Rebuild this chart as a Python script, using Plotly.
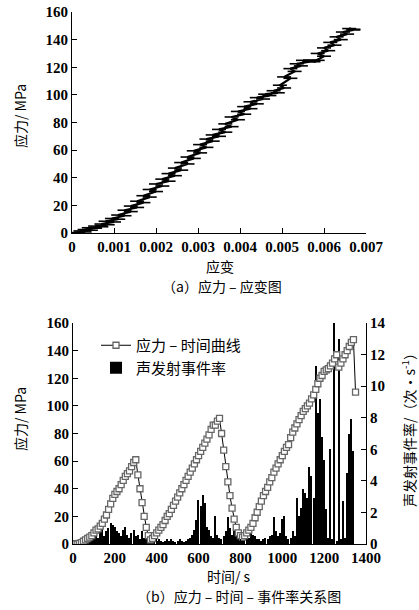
import plotly.graph_objects as go

# ---------------- data: (a) stress-strain ----------------
strain = [0.0, 0.00015, 0.00005, 0.0003, 0.0002, 0.00045, 0.0003, 0.00055, 0.0004, 0.0007,
          0.00055, 0.00085, 0.0007, 0.001, 0.0008, 0.0011, 0.00095, 0.00125, 0.0011, 0.0014,
          0.00125, 0.00155, 0.0014, 0.0017, 0.00155, 0.00185, 0.0017, 0.002, 0.00185, 0.00215,
          0.002, 0.0023, 0.00215, 0.00245, 0.0023, 0.0026, 0.00245, 0.00275, 0.0026, 0.0029,
          0.00275, 0.00305, 0.0029, 0.0032, 0.00305, 0.00335, 0.0032, 0.0035, 0.00335, 0.00365,
          0.0035, 0.0038, 0.00365, 0.00395, 0.0038, 0.0041, 0.00395, 0.00425, 0.0041, 0.0044,
          0.00425, 0.00455, 0.0044, 0.0047, 0.0046, 0.0049, 0.0048, 0.00505, 0.00495, 0.0052,
          0.00505, 0.0053, 0.0052, 0.00545, 0.00535, 0.00565, 0.0055, 0.00585, 0.00575, 0.006,
          0.00585, 0.0061, 0.006, 0.00625, 0.00615, 0.0064, 0.0063, 0.00655, 0.00645, 0.0067,
          0.0066, 0.0067]
stress_a = [0, 0, 0.3, 0.8, 1.5, 2, 2.5, 3.5, 3.8, 4.5,
            5, 6, 6.5, 8, 8.5, 10, 10.5, 12.5, 13, 15.5,
            16.5, 18.5, 19.5, 22, 23, 26, 27, 30, 31.5, 34,
            35.5, 37.5, 39, 41.5, 43, 45.5, 47, 50, 51, 54,
            55, 58, 59.5, 62, 64, 66.5, 68, 70, 71, 73,
            75, 77, 79, 82, 84, 86, 88, 90, 91.5, 93.5,
            95, 97, 98, 99.5, 100.5, 101.5, 103, 105, 107, 112,
            113, 117, 119, 121, 122.5, 124, 125, 125, 124, 128,
            130, 132, 134, 136, 138, 140, 142, 144, 145.5, 147,
            148, 147.5]

# ---------------- data: (b) stress-time & AE rate ----------------
time_s = [0, 10, 20, 30, 40, 50, 60, 70, 80, 90, 100, 110, 120, 130, 140, 150, 160, 170, 180, 190,
          200, 210, 220, 230, 240, 250, 260, 270, 280, 290, 300, 310, 320, 330, 340, 350, 360, 370, 380, 390,
          400, 410, 420, 430, 440, 450, 460, 470, 480, 490, 500, 510, 520, 530, 540, 550, 560, 570, 580, 590,
          600, 610, 620, 630, 640, 650, 660, 670, 680, 690, 700, 710, 720, 730, 740, 750, 760, 770, 780, 790,
          800, 810, 820, 830, 840, 850, 860, 870, 880, 890, 900, 910, 920, 930, 940, 950, 960, 970, 980, 990,
          1000, 1010, 1020, 1030, 1040, 1050, 1060, 1070, 1080, 1090, 1100, 1110, 1120, 1130, 1140, 1150,
          1160, 1170, 1180, 1190, 1200, 1210, 1220, 1230, 1240, 1250, 1260, 1270, 1280, 1290, 1300, 1310,
          1320, 1330, 1340, 1350]
stress_b = [0, 0, 0, 0.5, 1, 2, 3, 4, 5, 6, 8, 10, 11, 13, 15, 18, 21, 25, 29, 33,
            36, 38, 40, 43, 46, 49, 51, 53, 56, 59, 61, 50, 40, 30, 20, 12, 6, 3, 4, 6,
            8, 10, 12, 14, 17, 20, 22, 25, 28, 31, 34, 37, 40, 43, 46, 49, 52, 55, 58, 61,
            64, 67, 70, 73, 76, 79, 83, 86, 86, 89, 91, 80, 68, 56, 45, 35, 26, 18, 12, 8,
            6, 5, 6, 8, 10, 12, 15, 19, 23, 27, 31, 35, 38, 41, 45, 48, 52, 55, 58, 61,
            64, 67, 70, 72, 77, 81, 84, 87, 90, 93, 96, 98, 100, 102, 105, 108,
            112, 116, 120, 122, 125, 126, 127, 129, 131, 134, 137, 128, 131, 134, 137, 140,
            143, 146, 148, 110]
ae_rate = [0.1, 0.1, 0.1, 0.2, 0.1, 0.2, 0.2, 0.3, 0.2, 0.4, 0.3, 0.6, 0.4, 1.5, 1.2, 0.5, 0.8, 1.0, 1.3, 1.2,
           1.1, 0.8, 0.7, 0.5, 0.9, 1.1, 0.6, 0.4, 0.7, 0.9, 0.5, 0.6, 0.3, 0.8, 0.4, 0.3, 0.2, 0.3, 0.2, 0.4,
           0.2, 0.3, 0.2, 0.1, 0.2, 0.3, 0.2, 0.3, 0.2, 0.1, 0.2, 0.3, 0.2, 0.1, 0.2, 0.3, 0.4, 0.6, 0.9, 1.5,
           2.8, 2.4, 3.1, 2.6, 1.1, 0.9, 0.5, 0.4, 1.8, 0.6, 0.4, 0.3, 0.5, 0.8, 1.7, 1.0, 0.6, 1.0, 0.5, 0.6,
           0.4, 0.3, 0.5, 0.3, 0.4, 0.8, 0.6, 0.5, 0.3, 0.3, 0.2, 0.3, 0.4, 0.3, 0.5, 0.6, 1.7, 0.8, 0.5, 0.7,
           1.6, 1.8, 0.5, 0.3, 0.4, 0.8, 0.5, 2.9, 1.8, 2.3, 3.5, 3.2, 2.9, 4.9, 4.3, 2.9,
           11.3, 8.3, 9.2, 6.8, 5.3, 2.2, 0.4, 6.0, 0.3, 14.0, 0.2, 13.0, 0.3, 2.7, 0.4, 4.5,
           7.0, 7.9, 5.9, 0]

# tick labels
strain_ticks = [0, 0.001, 0.002, 0.003, 0.004, 0.005, 0.006, 0.007]
strain_ticktext = ["0", "0.001", "0.002", "0.003", "0.004", "0.005", "0.006", "0.007"]
stress_ticks = [0, 20, 40, 60, 80, 100, 120, 140, 160]
time_ticks = [0, 200, 400, 600, 800, 1000, 1200, 1400]
rate_ticks = [0, 2, 4, 6, 8, 10, 12, 14]

W, H = 419, 610
SERIF = "Liberation Serif"
CJK = "Noto Sans CJK SC"
tickfont = dict(family=SERIF, size=15, color="black", weight="bold")

fig = go.Figure()

# (a)
fig.add_trace(go.Scatter(
    x=strain, y=stress_a, mode="lines+markers", xaxis="x", yaxis="y",
    line=dict(color="black", width=2.2),
    marker=dict(symbol="line-ew-open", size=10, color="black", line=dict(width=1.6, color="black")),
    showlegend=False, hoverinfo="skip"))

# (b) bars on right axis (base), stress on overlaying left axis
fig.add_trace(go.Bar(
    x=time_s, y=ae_rate, xaxis="x2", yaxis="y2", width=6,
    marker=dict(color="black", line=dict(width=0)),
    name="声发射事件率", legendrank=2))
fig.add_trace(go.Scatter(
    x=time_s, y=stress_b, xaxis="x2", yaxis="y3", mode="lines+markers",
    line=dict(color="black", width=1),
    marker=dict(symbol="square", size=6, color="white", line=dict(color="#666666", width=1.3)),
    name="应力 – 时间曲线", legendrank=1))

def px_x(p):
    return p / W

def px_y(p):
    return (H - p) / H

axis_common = dict(showline=True, linecolor="black", linewidth=1.2, ticks="inside",
                   ticklen=5, tickwidth=1.2, tickcolor="black", showgrid=False,
                   zeroline=False, tickfont=tickfont, automargin=False)

fig.update_layout(
    width=W, height=H, margin=dict(l=0, r=0, t=0, b=0),
    paper_bgcolor="white", plot_bgcolor="white",
    bargap=0,
    xaxis=dict(domain=[px_x(72), px_x(366)], range=[0, 0.007], anchor="y",
               tickvals=strain_ticks, ticktext=strain_ticktext, **axis_common),
    yaxis=dict(domain=[px_y(233), px_y(12)], range=[0, 160], anchor="x",
               tickvals=stress_ticks, **axis_common),
    xaxis2=dict(domain=[px_x(73), px_x(366)], range=[0, 1400], anchor="y2",
                tickvals=time_ticks, **axis_common),
    yaxis2=dict(domain=[px_y(544), px_y(323)], range=[0, 14], anchor="x2", side="right",
                tickvals=rate_ticks, **axis_common),
    yaxis3=dict(range=[0, 160], anchor="x2", overlaying="y2", side="left",
                tickvals=stress_ticks, **axis_common),
    legend=dict(x=px_x(96), y=px_y(329), xanchor="left", yanchor="top",
                bgcolor="rgba(0,0,0,0)", font=dict(family=CJK, size=15, color="black"),
                tracegroupgap=0, itemwidth=30),
)

def ann(text, x, y, size=14, angle=0, family=CJK):
    fig.add_annotation(text=text, x=px_x(x), y=px_y(y), xref="paper", yref="paper",
                       showarrow=False, textangle=angle, xanchor="center", yanchor="middle",
                       font=dict(family=family, size=size, color="black"))

ann("应力/ MPa", 20, 116, angle=-90)
ann("应变", 220, 266)
ann("（a）应力 – 应变图", 222, 286)
ann("应力/ MPa", 20, 419, angle=-90)
ann("声发射事件率/（次·s<sup>-1</sup>）", 408, 427, angle=-90)
ann("时间/ s", 229, 576)
ann("（b）应力 – 时间 – 事件率关系图", 239, 596)

# remove the default 8 px page margin so the figure fills the window exactly
fig.write_html("out.html", config={"displayModeBar": False},
               post_script="document.body.style.margin='0px';")
